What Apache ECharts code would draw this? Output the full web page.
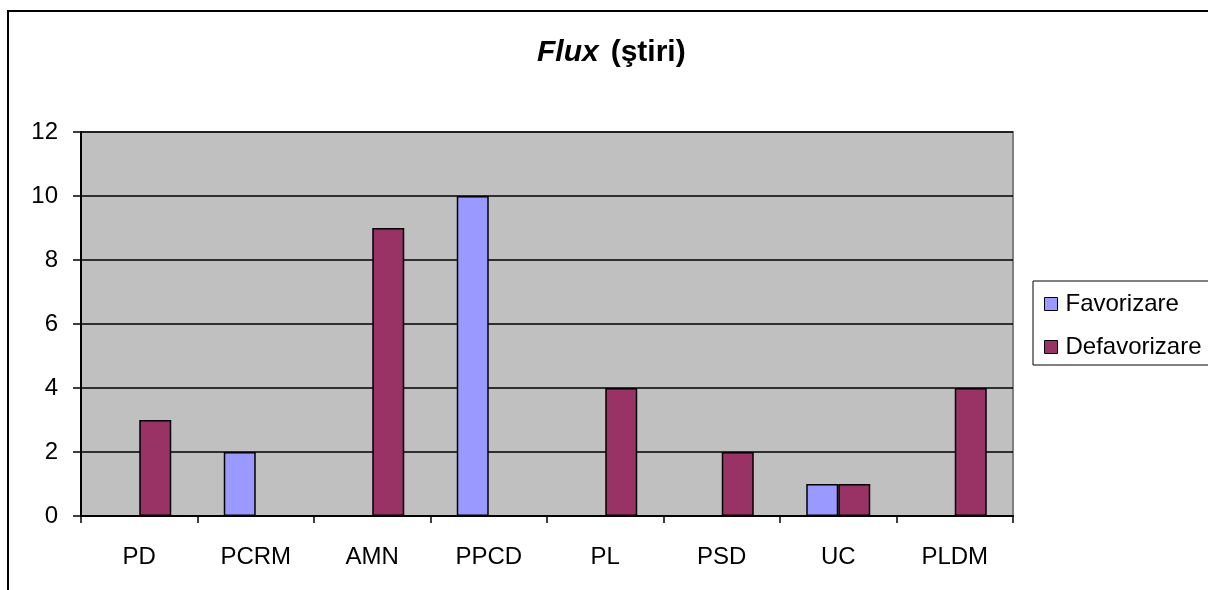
<!DOCTYPE html>
<html>
<head>
<meta charset="utf-8">
<script src="https://cdn.jsdelivr.net/npm/echarts@6/dist/echarts.min.js"></script>
<style>
html,body{margin:0;padding:0;background:#fff;}
#c{width:1208px;height:590px;}
</style>
</head>
<body>
<div id="c"></div>
<script>
const categories = ['PD', 'PCRM', 'AMN', 'PPCD', 'PL', 'PSD', 'UC', 'PLDM'];
const favorizare = [0, 2, 0, 10, 0, 0, 1, 0];
const defavorizare = [3, 0, 9, 0, 4, 2, 1, 4];
const seriesNames = ['Favorizare', 'Defavorizare'];
const yTicks = { min: 0, max: 12, interval: 2 };

const FONT = '"Liberation Sans", Arial, sans-serif';
const chart = echarts.init(document.getElementById('c'), null, { renderer: 'canvas' });
const toBars = arr => arr.map(v => (v === 0 ? '-' : v));

chart.setOption({
  animation: false,
  backgroundColor: '#ffffff',
  textStyle: { fontFamily: FONT },
  graphic: [{
    type: 'rect',
    shape: { x: 8, y: 11, width: 1400, height: 800 },
    style: { fill: 'none', stroke: '#000', lineWidth: 2 },
    z: 100
  }],
  title: {
    text: '{a|Flux}{s| }{b|(ştiri)}',
    left: 537,
    top: 38,
    padding: 0,
    textStyle: {
      fontFamily: FONT,
      fontSize: 30,
      fontWeight: 'bold',
      rich: {
        a: { fontFamily: FONT, fontSize: 30, fontWeight: 'bold', fontStyle: 'italic', color: '#000', lineHeight: 30 },
        s: { fontFamily: FONT, fontSize: 30, width: 12, lineHeight: 30 },
        b: { fontFamily: FONT, fontSize: 30, fontWeight: 'bold', color: '#000', lineHeight: 30 }
      }
    }
  },
  legend: {
    orient: 'vertical',
    left: 1033,
    top: 281,
    padding: [11, 40, 6, 11],
    itemGap: 19,
    itemWidth: 13,
    itemHeight: 13,
    icon: 'rect',
    borderColor: '#000',
    borderWidth: 1,
    data: seriesNames,
    textStyle: { fontFamily: FONT, fontSize: 24, color: '#000', lineHeight: 24, padding: [0, 0, 0, 3] },
    itemStyle: { borderColor: '#000', borderWidth: 1 }
  },
  grid: {
    left: 81, top: 132, right: 195, bottom: 74,
    show: true,
    backgroundColor: '#c0c0c0',
    borderColor: '#808080',
    borderWidth: 2,
    containLabel: false
  },
  xAxis: {
    type: 'category',
    data: categories,
    boundaryGap: true,
    axisLine: { show: true, lineStyle: { color: '#000', width: 2 } },
    axisTick: { show: true, alignWithLabel: false, length: 7, lineStyle: { color: '#000', width: 1.5 } },
    axisLabel: { color: '#000', fontSize: 24, fontFamily: FONT, margin: 29, interval: 0 },
    splitLine: { show: false }
  },
  yAxis: {
    type: 'value',
    min: yTicks.min,
    max: yTicks.max,
    interval: yTicks.interval,
    axisLine: { show: true, lineStyle: { color: '#000', width: 2 } },
    axisTick: { show: true, length: 8, lineStyle: { color: '#000', width: 1.5 } },
    axisLabel: { color: '#000', fontSize: 24, fontFamily: FONT, margin: 23 },
    splitLine: { show: true, lineStyle: { color: '#000', width: 1.5 } }
  },
  series: [
    {
      name: seriesNames[0],
      type: 'bar',
      data: toBars(favorizare),
      barWidth: 32,
      barGap: '0%',
      itemStyle: { color: '#9999ff', borderColor: '#000', borderWidth: 1.5 }
    },
    {
      name: seriesNames[1],
      type: 'bar',
      data: toBars(defavorizare),
      barWidth: 32,
      barGap: '0%',
      itemStyle: { color: '#993366', borderColor: '#000', borderWidth: 1.5 }
    }
  ]
});
</script>
</body>
</html>
